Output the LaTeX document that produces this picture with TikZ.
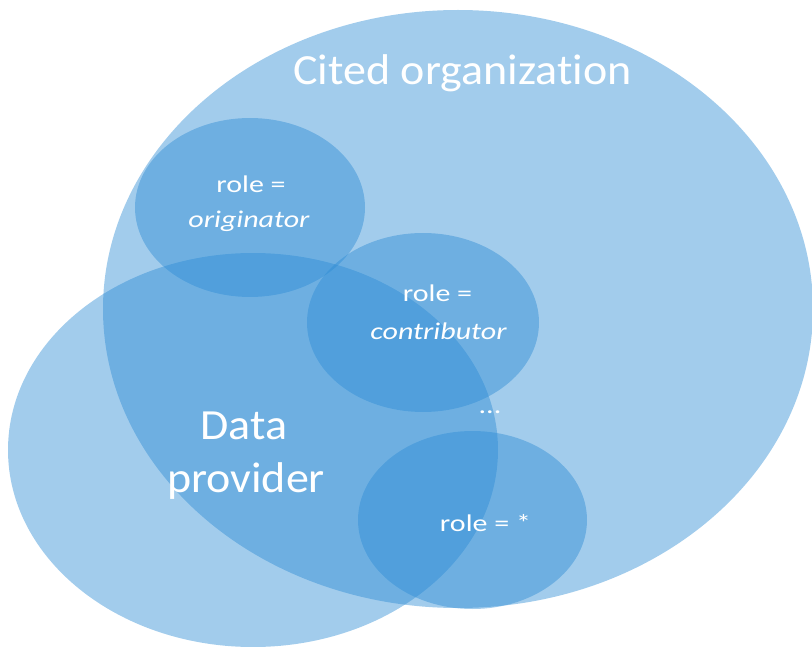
\documentclass[tikz,border=0pt]{standalone}
\usepackage{fontspec}
\setmainfont{Carlito}[Ligatures=NoCommon]
\newfontfamily\setfont{Carlito}[Ligatures=NoCommon,FakeStretch=1.07]
\newfontfamily\rolefont{Carlito}[Ligatures=NoCommon,FakeStretch=1.25]
\definecolor{roleblue}{RGB}{44,139,212}
\begin{document}
\begin{tikzpicture}[x=1pt,y=-1pt,
	blob/.style={fill=roleblue,fill opacity=0.44},
	label/.style={text=white,inner sep=0pt,anchor=base,font=\rolefont\fontsize{24}{30}\selectfont},
	biglabel/.style={text=white,inner sep=0pt,anchor=base,font=\setfont\fontsize{43}{53}\selectfont}]
	
	\useasboundingbox (0,0) rectangle (812,647);
	\clip (0,0) rectangle (812,647);
	
	% the two big sets
	\fill[blob] (458,309) ellipse (355 and 299);
	\fill[blob] (253,450) ellipse (245 and 197);
	
	% the roles
	\fill[blob] (250,207.5) ellipse (115 and 89.5);
	\fill[blob] (423,322.5) ellipse (116 and 89.5);
	\fill[blob] (472.5,520) ellipse (114.5 and 89);
	
	\node[biglabel] (cited) at (462.5,85) {Cited organization};
	\node[biglabel] (data) at (244,439) {Data};
	\node[biglabel] (provider) at (246,492) {provider};
	
	\node[label] (origrole) at (251,193) {role =};
	\node[label] (orig) at (249,228) {\itshape originator};
	\node[label] (contrrole) at (437.5,302) {role =};
	\node[label] (contr) at (438.5,340) {\itshape contributor};
	\node[label] (dots) at (490,413) {...};
	\node[label] (anyrole) at (485.5,531) {role = *};
	
\end{tikzpicture}
\end{document}
